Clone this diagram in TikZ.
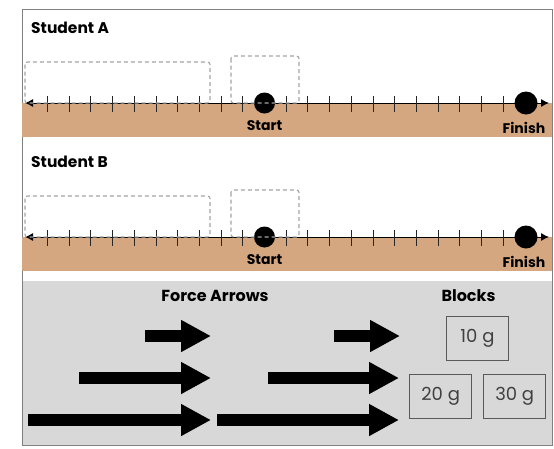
\documentclass[tikz,border=0pt]{standalone}
\usepackage{fontspec}
\setmainfont{Poppins}
\usetikzlibrary{arrows.meta,positioning}
\definecolor{ground}{RGB}{212,167,128}
\definecolor{panel}{RGB}{216,216,216}
\definecolor{dashgray}{RGB}{165,165,165}
\tikzset{
	lbl/.style={font=\bfseries\fontsize{15.5}{15.5}\selectfont, inner sep=0pt},
	headlbl/.style={font=\bfseries\fontsize{16}{16}\selectfont, inner sep=0pt},
	endlbl/.style={font=\bfseries\fontsize{14}{14}\selectfont, inner sep=0pt},
	dot/.style={circle, fill=black, inner sep=0pt, minimum size=21pt},
	slot/.style={draw=dashgray, dash pattern=on 4pt off 3pt, line width=1.1pt, rounded corners=2.5pt},
	force/.style={line width=12pt, -{Triangle[length=30pt,width=30pt]}},
	block/.style={draw=black!65, line width=1pt, minimum width=62pt, minimum height=44pt, inner sep=0pt, font=\fontsize{18}{18}\selectfont, text=black!75}
}
\begin{document}
\begin{tikzpicture}[x=1pt,y=-1pt]
	\useasboundingbox (0,0) rectangle (554,448);
	% frame and lower panel
	\fill[panel] (22,281) rectangle (552,445);
	\draw[black!50, line width=0.8pt] (22,9.5) rectangle (552,445);
	% the two tracks
	\foreach \row/\y in {A/103,B/237}{
		\fill[ground] (22,\y) rectangle (552,\y+34);
		\draw[{Latex[length=8pt,width=8pt]}-{Latex[length=8pt,width=8pt]}, line width=0.9pt] (25,\y) -- (549,\y);
		\foreach \k in {-10,...,12}
			\draw[black!85, line width=1pt] (264.5+\k*21.7,\y-7) -- ++(0,16);
		\node[dot] (start\row) at (264.5,\y) {};
		\node[dot, minimum size=23pt] (finish\row) at (526,\y) {};
		\node[endlbl, below=7pt of start\row] (startlbl\row) {Start};
		\node[endlbl, below=7pt of finish\row, xshift=-2pt] (finishlbl\row) {Finish};
		\node[lbl, anchor=west] (student\row) at (31,\y-75.5) {Student \row};
		\draw[slot] (25,\y-41) rectangle (210,\y);
		\draw[slot] (231,\y-47) rectangle (299,\y);
	}
	% force arrows
	\node[headlbl] (forcehead) at (215,296) {Force Arrows};
	\draw[force] (145,336) -- (211,336);
	\draw[force] (334,336) -- (400,336);
	\draw[force] (79,378) -- (211,378);
	\draw[force] (268,378) -- (399,378);
	\draw[force] (28,420) -- (211,420);
	\draw[force] (217,420) -- (399,420);
	% blocks
	\node[headlbl] (blockhead) at (468.5,296) {Blocks};
	\node[block] (ten) at (477.5,338.7) {10 g};
	\node[block] (twenty) at (440.7,396.7) {20 g};
	\node[block] (thirty) at (514.7,396.7) {30 g};
\end{tikzpicture}
\end{document}
